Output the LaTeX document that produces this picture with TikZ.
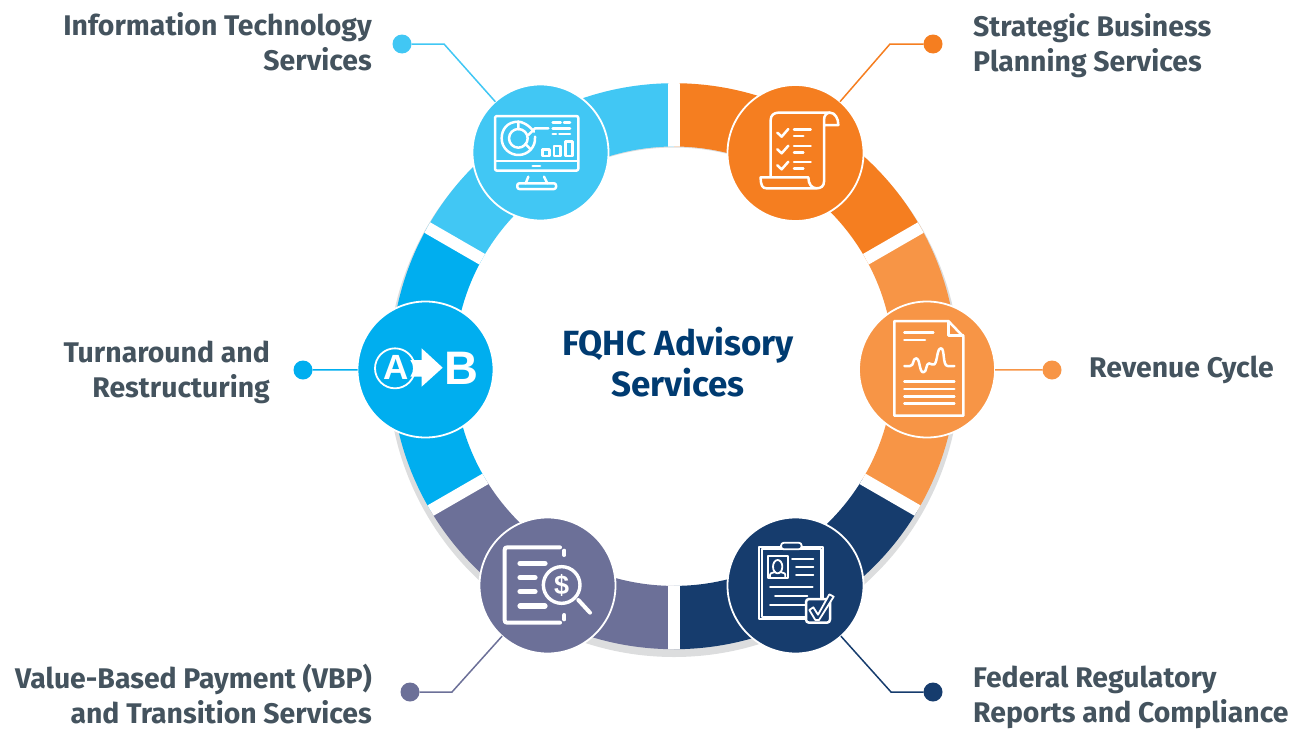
\documentclass[tikz,border=0pt]{standalone}
\usepackage{fontspec}
\usetikzlibrary{calc}
\setmainfont{Fira Sans}
\newfontfamily\iconfont{Liberation Sans}
\definecolor{cIT}{HTML}{41C7F4}
\definecolor{cOr}{HTML}{F57E20}
\definecolor{cLo}{HTML}{F79546}
\definecolor{cBl}{HTML}{00AEEF}
\definecolor{cSl}{HTML}{6C7098}
\definecolor{cNv}{HTML}{163C6D}
\definecolor{cGr}{HTML}{DCDDDE}
\definecolor{cTx}{HTML}{44535E}
\definecolor{cTi}{HTML}{003B71}
\tikzset{
  hub/.style={circle,draw=white,line width=1.8pt,minimum size=136pt,inner sep=0pt,outer sep=0pt},
  dot/.style={circle,minimum size=19pt,inner sep=0pt,outer sep=0pt},
  leader/.style={line width=1.5pt},
  lab/.style={font=\fontsize{28.4}{35}\selectfont\bfseries,text=cTx,inner sep=0pt},
  ico/.style={draw=white,line width=2.5pt,line cap=round,line join=round},
  icoz/.style={shift={#1},x=0.33333pt,y=-0.33333pt}
}
\begin{document}
\begin{tikzpicture}[x=1pt,y=-1pt]
\useasboundingbox (0,0) rectangle (1297,728);
\coordinate (c) at (674,366.2);
\coordinate (g) at (674,370);
% ring
\fill[cGr,even odd rule] (674,371) circle (286) (674,371) circle (223.5);
\begin{scope}[even odd rule]
\clip (c) circle (283) (c) circle (219.7);
\fill[cOr] (g) -- ($(g)+(0,-600)$) -- ($(g)+(600,-600)$) -- ($(g)+({600*cos(30)},{-600*sin(30)})$) -- cycle;
\fill[cLo] (g) -- ($(g)+({600*cos(30)},{-600*sin(30)})$) -- ($(g)+(700,0)$) -- ($(g)+({600*cos(30)},{600*sin(30)})$) -- cycle;
\fill[cNv] (g) -- ($(g)+({600*cos(30)},{600*sin(30)})$) -- ($(g)+(600,600)$) -- ($(g)+(0,600)$) -- cycle;
\fill[cSl] (g) -- ($(g)+(0,600)$) -- ($(g)+(-600,600)$) -- ($(g)+({-600*cos(30)},{600*sin(30)})$) -- cycle;
\fill[cBl] (g) -- ($(g)+({-600*cos(30)},{600*sin(30)})$) -- ($(g)+(-700,0)$) -- ($(g)+({-600*cos(30)},{-600*sin(30)})$) -- cycle;
\fill[cIT] (g) -- ($(g)+({-600*cos(30)},{-600*sin(30)})$) -- ($(g)+(-600,-600)$) -- ($(g)+(0,-600)$) -- cycle;
\draw[white,line width=12pt] ($(g)+(0,-300)$) -- ($(g)+(0,300)$);
\draw[white,line width=12pt] ($(g)+({-320*cos(30)},{-320*sin(30)})$) -- ($(g)+({320*cos(30)},{320*sin(30)})$);
\draw[white,line width=12pt] ($(g)+({-320*cos(30)},{320*sin(30)})$) -- ($(g)+({320*cos(30)},{-320*sin(30)})$);
\end{scope}
% dots and leaders
\node[dot,fill=cIT] (dIT) at (402,44) {};
\node[dot,fill=cOr] (dSB) at (933,44) {};
\node[dot,fill=cBl] (dTR) at (303,370) {};
\node[dot,fill=cLo] (dRC) at (1052,370) {};
\node[dot,fill=cSl] (dVB) at (410,692) {};
\node[dot,fill=cNv] (dFR) at (933,692) {};
\coordinate (kIT) at (444,44);
\coordinate (kSB) at (890,44);
\coordinate (kVB) at (452,692);
\coordinate (kFR) at (891,692);
\node[hub,fill=cIT] (hIT) at (540.5,152.5) {};
\node[hub,fill=cOr] (hSB) at (795.5,153) {};
\node[hub,fill=cBl] (hTR) at (425.5,369.5) {};
\node[hub,fill=cLo] (hRC) at (927,369.5) {};
\node[hub,fill=cSl] (hVB) at (547.5,585.5) {};
\node[hub,fill=cNv] (hFR) at (795.5,585.5) {};
\draw[leader,cIT] (dIT) -- (kIT) -- (hIT);
\draw[leader,cOr] (dSB) -- (kSB) -- (hSB);
\draw[leader,cBl] (dTR) -- (hTR);
\draw[leader,cLo] (dRC) -- (hRC);
\draw[leader,cSl] (dVB) -- (kVB) -- (hVB);
\draw[leader,cNv] (dFR) -- (kFR) -- (hFR);
% labels
\node[lab,align=right,anchor=north east] (tIT) at (372,12.7) {Information Technology\\Services};
\node[lab,align=left,anchor=north west] (tSB) at (973,13.7) {Strategic Business\\Planning Services};
\node[lab,align=right,anchor=north east] (tTR) at (270,340.5) {Turnaround and\\Restructuring};
\node[lab,anchor=west] (tRC) at (1089,369.5) {Revenue Cycle};
\node[lab,align=right,anchor=north east] (tVB) at (372,664) {Value-Based Payment (VBP)\\and Transition Services};
\node[lab,align=left,anchor=north west] (tFR) at (973,665.5) {Federal Regulatory\\Reports and Compliance};
\node[font=\fontsize{35}{41}\selectfont\bfseries,text=cTi,align=center,inner sep=0pt] (title) at (678,362.5) {FQHC Advisory\\Services};
% icon: monitor
\begin{scope}[icoz={(460,90)}]
\draw[ico,rounded corners=2pt] (105,78) rectangle (355,242);
\draw[ico] (105,213) -- (355,213);
\draw[ico] (218,228) -- (240,228);
\draw[ico,rounded corners=2pt] (172,280) rectangle (288,297);
\draw[ico] (205,260) -- (197,280) (252,260) -- (262,280);
\draw[ico] (175,145) circle (28);
\draw[ico] (175,95) -- (175,118) (196,162) -- (212,178);
\draw[ico] (222,125) .. controls (205,103) and (185,95) .. (175,95) .. controls (140,95) and (125,120) .. (125,145) .. controls (125,175) and (150,195) .. (175,195) .. controls (205,195) and (228,170) .. (225,140);
\draw[ico] (205,135) -- (225,115) -- (265,115);
\draw[ico] (278,97) -- (302,97) (312,97) -- (330,97) (278,115) -- (330,115) (278,132) -- (288,132) (298,132) -- (330,132);
\draw[ico] (248,178) rectangle (268,198) (282,168) rectangle (302,198) (316,155) rectangle (338,198);
\end{scope}
% icon: scroll
\begin{scope}[icoz={(720,80)}]
\draw[ico] (152,292) -- (152,120) .. controls (152,106) and (162,98) .. (175,98) -- (330,98) .. controls (345,98) and (355,115) .. (355,135) -- (312,135) -- (312,305) .. controls (312,318) and (303,325) .. (290,325) -- (140,325) .. controls (128,325) and (122,318) .. (122,292) -- (265,292) .. controls (265,312) and (275,325) .. (290,325);
\draw[ico] (312,135) -- (312,120) .. controls (312,106) and (320,98) .. (330,98);
\foreach \d in {0,50,98}{
\draw[ico] (172,\d+158) -- (185,\d+170) -- (205,\d+147);
\draw[ico] (222,\d+148) -- (272,\d+148) (222,\d+168) -- (250,\d+168);
}
\end{scope}
% icon: A to B
\begin{scope}[icoz={(350,295)}]
\draw[white,line width=1.8pt] (135,220) circle (60);
\node[font=\iconfont\fontsize{35}{35}\selectfont\bfseries,text=white,inner sep=0pt] (iA) at (137,218) {A};
\fill[white] (181,195) -- (215,195) -- (215,160) -- (278,218) -- (215,275) -- (215,245) -- (181,245) .. controls (192,230) and (192,210) .. (181,195) -- cycle;
\node[font=\iconfont\fontsize{47}{47}\selectfont\bfseries,text=white,inner sep=0pt] (iB) at (333,221) {B};
\end{scope}
% icon: revenue document
\begin{scope}[icoz={(855,295)}]
\draw[ico] (118,78) -- (280,78) -- (325,125) -- (325,362) -- (118,362) -- cycle;
\draw[ico] (280,80) -- (280,122) -- (325,122);
\draw[ico] (148,113) -- (235,113) (148,135) -- (210,135);
\draw[ico] (148,213) -- (165,213) .. controls (178,213) and (172,190) .. (183,190) .. controls (196,190) and (192,232) .. (205,232) .. controls (216,232) and (212,205) .. (222,205) .. controls (230,205) and (232,212) .. (238,208) .. controls (248,200) and (245,160) .. (258,160) .. controls (270,160) and (262,213) .. (278,213) -- (298,213);
\draw[ico] (148,260) -- (298,260) (148,282) -- (298,282) (148,304) -- (298,304) (148,326) -- (298,326);
\end{scope}
% icon: value document
\begin{scope}[icoz={(470,510)}]
\draw[ico,line width=4pt] (270,112) -- (112,112) .. controls (106,112) and (104,114) .. (104,120) -- (104,330) .. controls (104,336) and (106,338) .. (112,338) -- (270,338);
\draw[ico,line width=4pt] (283,122) -- (283,135) (283,315) -- (283,328);
\draw[ico,line width=5.2pt] (150,160) -- (225,160) (150,203) -- (195,203) (150,245) -- (195,245) (150,288) -- (225,288);
\draw[ico,line width=3.4pt] (275,225) circle (55);
\draw[ico,line width=4pt] (325,270) -- (360,308);
\node[font=\iconfont\fontsize{27}{27}\selectfont\bfseries,text=white,inner sep=0pt] (iS) at (275,225) {\$};
\end{scope}
% icon: federal clipboard
\begin{scope}[icoz={(720,510)}]
\draw[ico,line width=1.8pt] (118,110) rectangle (310,328);
\draw[ico,line width=1.8pt] (127,118) rectangle (302,320);
\draw[ico,fill=cNv,line width=1.8pt,rounded corners=3pt] (183,98) rectangle (245,118);
\draw[ico,line width=1.8pt] (143,138) rectangle (203,205);
\draw[ico,line width=1.8pt] (173,170) ellipse (14 and 20);
\draw[ico,line width=1.8pt] (150,203) -- (150,195) .. controls (150,186) and (162,190) .. (165,186) (181,186) .. controls (184,190) and (196,186) .. (196,195) -- (196,203);
\draw[ico,line width=1.8pt] (216,146) -- (280,146) (228,170) -- (280,170) (228,194) -- (280,194) (150,232) -- (278,232) (165,257) -- (262,257) (150,284) -- (255,284);
\draw[ico,fill=cNv,rounded corners=3pt] (258,267) rectangle (330,338);
\draw[ico,fill=cNv,line width=1.8pt] (268,300) -- (280,292) -- (294,314) -- (328,253) -- (341,260) -- (297,330) -- (286,330) -- cycle;
\end{scope}
\end{tikzpicture}
\end{document}
